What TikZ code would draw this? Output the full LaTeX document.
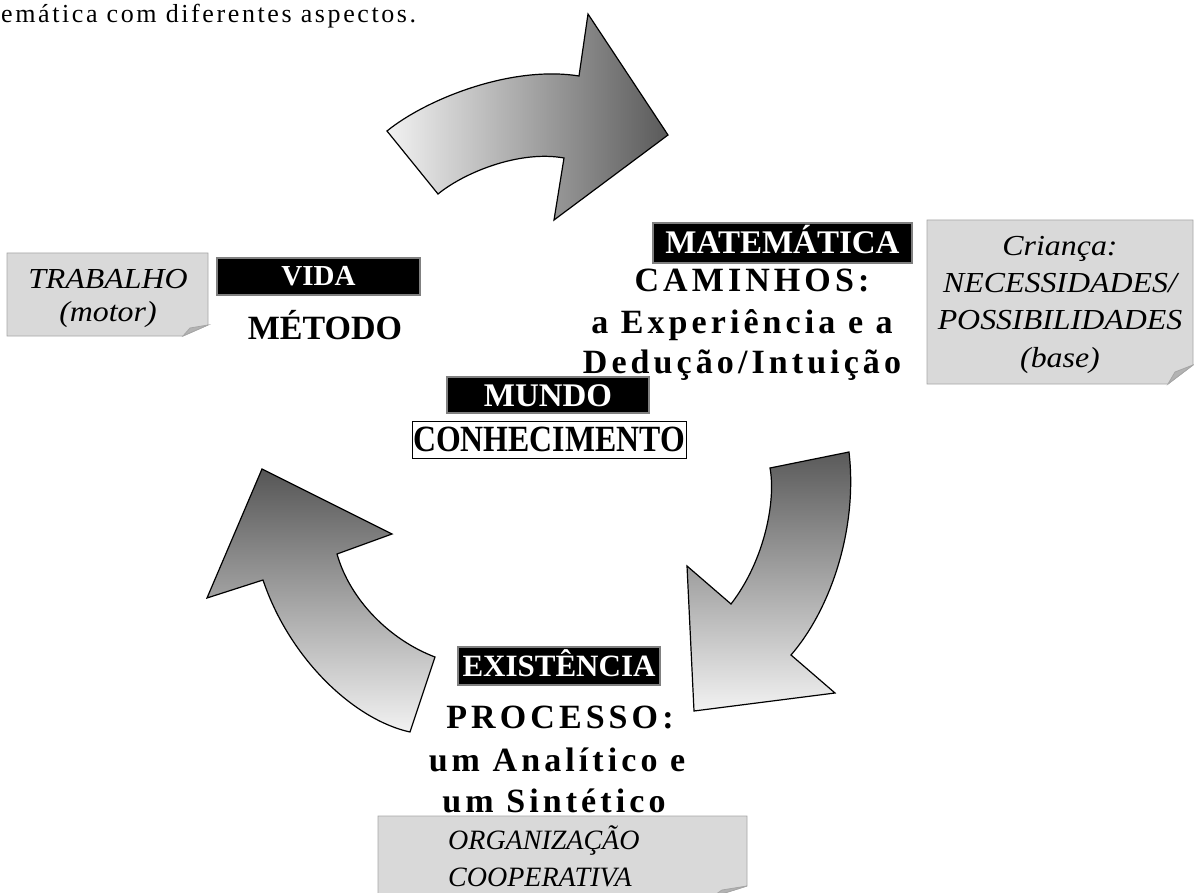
\documentclass[tikz,border=0pt]{standalone}
\usepackage{fontspec}
\setmainfont{Liberation Serif}
\newfontfamily\tsp[LetterSpace=12]{Liberation Serif}
\newfontfamily\ttopf[LetterSpace=10]{Liberation Serif}
\newfontfamily\tsn[FakeStretch=1.1]{Liberation Serif}
\newfontfamily\tcond[FakeStretch=0.86]{Liberation Serif}
\newcommand\fsz[1]{\fontsize{#1}{#1}\selectfont}
\definecolor{notegray}{HTML}{D9D9D9}
\definecolor{notedge}{HTML}{A6A6A6}
\definecolor{flapgray}{HTML}{B3B3B3}
\definecolor{arrdark}{HTML}{5A5A5A}
\definecolor{arrlight}{HTML}{F2F2F2}
\tikzset{
  arrowshape/.style={draw=black, line width=1.2pt, line join=miter},
  blacklbl/.style={fill=black, draw=gray, line width=1.5pt, text=white, inner sep=0pt, text depth=0pt},
  notebody/.style={fill=notegray, draw=notedge, line width=0.8pt},
  noteflap/.style={fill=flapgray, draw=notedge, line width=0.8pt},
  notetxt/.style={anchor=base, inner sep=0pt, font=\tsn\itshape\fsz{29}},
  sptxt/.style={anchor=base, inner sep=0pt, font=\tsp\bfseries\fsz{34}}
}
\begin{document}
\begin{tikzpicture}[x=1pt,y=-1pt]
\useasboundingbox (0,0) rectangle (1194,893);

% top text
\node[anchor=base west, inner sep=0pt, font=\ttopf\fsz{26}] (toptxt) at (1,23) {emática com diferentes aspectos.};

% top arrow
\draw[arrowshape, left color=arrlight, right color=arrdark]
  (387,131) .. controls (425,100) and (510,65) .. (579,76) -- (588,14) -- (668,135)
  -- (554,220) -- (564,158) .. controls (520,150) and (465,172) .. (438,194) -- cycle;

% right arrow
\draw[arrowshape, top color=arrdark, bottom color=arrlight]
  (849,452) -- (770,468) .. controls (776,500) and (765,560) .. (731,604) -- (687,566)
  -- (694,711) -- (835,693) -- (791,655) .. controls (830,610) and (858,530) .. (849,452) -- cycle;

% left arrow
\draw[arrowshape, top color=arrdark!95!black, bottom color=arrlight]
  (262,469) -- (392,534) -- (337,554) .. controls (350,600) and (390,640) .. (435,657)
  -- (410,732) .. controls (355,720) and (290,660) .. (263,580) -- (207,598) -- cycle;

% notes
\draw[notebody] (7,253) -- (208,253) -- (208,325) -- (183,336) -- (7,336) -- cycle;
\draw[noteflap] (183,336) -- (208,325) -- (190,328) -- cycle;
\node[notetxt] (trab1) at (108,289) {TRABALHO};
\node[notetxt] (trab2) at (108,321) {(motor)};

\draw[notebody] (927,220) -- (1193,220) -- (1193,365) -- (1168,384) -- (927,384) -- cycle;
\draw[noteflap] (1168,384) -- (1193,365) -- (1175,372) -- cycle;
\node[notetxt] (cri1) at (1060,256) {Criança:};
\node[notetxt] (cri2) at (1060,293) {NECESSIDADES/};
\node[notetxt] (cri3) at (1060,330) {POSSIBILIDADES};
\node[notetxt] (cri4) at (1060,367) {(base)};

\draw[notebody] (378,816) -- (747,816) -- (747,886) -- (712,897) -- (378,897) -- cycle;
\draw[noteflap] (712,897) -- (747,886) -- (722,890) -- cycle;
\node[notetxt, anchor=base west, font=\itshape\fsz{28}] (org1) at (448,849) {ORGANIZAÇÃO};
\node[notetxt, anchor=base west, font=\itshape\fsz{28}] (org2) at (448,886) {COOPERATIVA};

% black labels
\node[blacklbl, minimum width=259pt, minimum height=40pt, text height=22pt, font=\bfseries\fsz{33}] (mat) at (782.5,243) {MATEMÁTICA};
\node[blacklbl, minimum width=203pt, minimum height=37pt, text height=19pt, font=\bfseries\fsz{29}] (vida) at (318.5,276.5) {VIDA};
\node[blacklbl, minimum width=202pt, minimum height=36pt, text height=22pt, font=\bfseries\fsz{33}] (mundo) at (548,395) {MUNDO};
\node[blacklbl, minimum width=202pt, minimum height=38pt, text height=20.5pt, font=\bfseries\fsz{31}] (exist) at (559,666) {EXISTÊNCIA};

\node[anchor=base, inner sep=0pt, font=\bfseries\fsz{34}] (metodo) at (325,339) {MÉTODO};
\node[fill=white, draw=black, line width=1pt, inner sep=0pt, minimum width=274pt, minimum height=37pt,
      text height=24.5pt, text depth=0pt, font=\tcond\bfseries\fsz{37}] (conh) at (549,439.5) {CONHECIMENTO};

% spaced texts
\node[sptxt] (cam1) at (752,292) {CAMINHOS:};
\node[sptxt] (cam2) at (742,334) {a Experiência e a};
\node[sptxt] (cam3) at (742,373) {Dedução/Intuição};
\node[sptxt] (pro1) at (560,728) {PROCESSO:};
\node[sptxt] (pro2) at (557,771) {um Analítico e};
\node[sptxt] (pro3) at (554,812) {um Sintético};
\end{tikzpicture}
\end{document}
